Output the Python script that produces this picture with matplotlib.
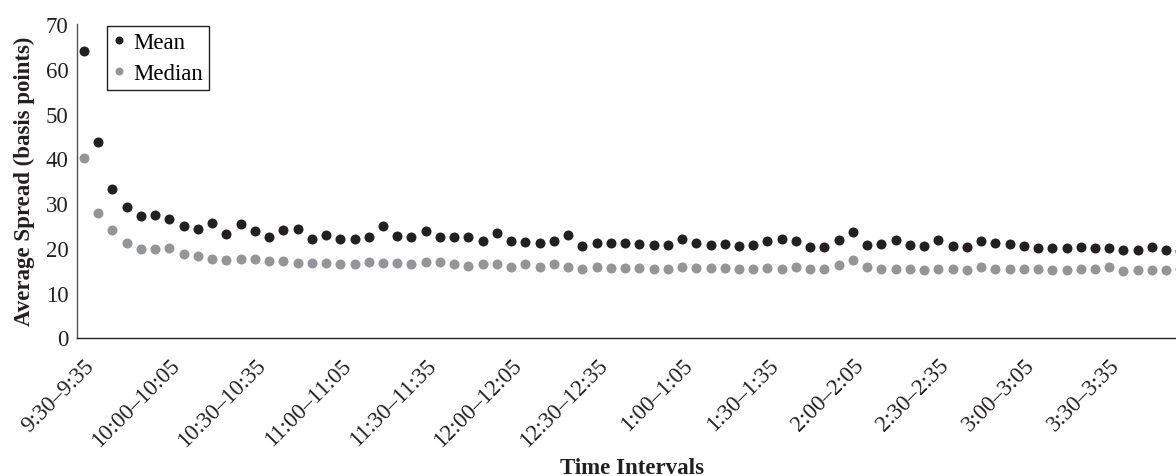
import matplotlib.pyplot as plt
import matplotlib.transforms as mtransforms
import numpy as np

# average spread per 5-minute interval, 9:30 to 4:00 (basis points)
mean_spread = [
    63.9, 43.6, 33.1, 29.1, 27.1, 27.3, 26.4, 24.9, 24.2, 25.6,
    23.1, 25.3, 23.7, 22.5, 24.0, 24.2, 22.0, 22.9, 22.0, 21.9,
    22.4, 24.9, 22.6, 22.5, 23.8, 22.5, 22.4, 22.4, 21.5, 23.3,
    21.5, 21.4, 21.0, 21.5, 22.9, 20.5, 21.2, 21.1, 21.2, 20.8,
    20.7, 20.7, 22.1, 21.0, 20.7, 20.9, 20.4, 20.7, 21.6, 22.0,
    21.5, 20.3, 20.3, 21.8, 23.5, 20.7, 20.9, 21.8, 20.7, 20.5,
    21.8, 20.4, 20.3, 21.5, 21.0, 20.9, 20.4, 19.9, 20.0, 20.0,
    20.1, 20.0, 20.0, 19.6, 19.6, 20.1, 19.6, 19.4,
]
median_spread = [
    40.1, 27.9, 23.9, 21.2, 19.8, 19.8, 20.0, 18.6, 18.2, 17.5,
    17.4, 17.5, 17.6, 17.0, 17.1, 16.6, 16.7, 16.6, 16.5, 16.5,
    16.9, 16.7, 16.6, 16.4, 16.8, 16.8, 16.4, 16.0, 16.3, 16.3,
    15.8, 16.4, 15.8, 16.3, 15.8, 15.4, 15.7, 15.5, 15.5, 15.5,
    15.3, 15.3, 15.7, 15.5, 15.5, 15.5, 15.3, 15.4, 15.5, 15.4,
    15.7, 15.4, 15.3, 16.2, 17.4, 15.8, 15.4, 15.4, 15.3, 15.1,
    15.3, 15.3, 15.1, 15.7, 15.4, 15.3, 15.3, 15.4, 15.1, 15.1,
    15.3, 15.4, 15.7, 14.8, 15.1, 15.1, 15.1, 15.3,
]
tick_labels = [
    '9:30–9:35', '10:00–10:05', '10:30–10:35', '11:00–11:05',
    '11:30–11:35', '12:00–12:05', '12:30–12:35', '1:00–1:05',
    '1:30–1:35', '2:00–2:05', '2:30–2:35', '3:00–3:05', '3:30–3:35',
]
label_every = 6

plt.rcParams['font.family'] = ['Liberation Serif', 'DejaVu Serif']
plt.rcParams['font.size'] = 16.5

W, H = 1176, 477
fig = plt.figure(figsize=(W / 100, H / 100), dpi=100)
ax = fig.add_axes([77.3 / W, 1 - 338.5 / H, 1 - 77.3 / W, (338.5 - 25) / H])

x = np.arange(len(mean_spread))
ax.plot(x, mean_spread, 'o', ls='none', color='#231f20', ms=7.2, mew=0, label='Mean')
ax.plot(x, median_spread, 'o', ls='none', color='#939598', ms=7.2, mew=0, label='Median')

ax.set_xlim(-0.47, 76.69)
ax.set_ylim(0, 70)
ax.set_yticks(range(0, 71, 10))
ax.set_xticks(x[::label_every])
ax.set_xticklabels(tick_labels, rotation=45, ha='right', rotation_mode='anchor')

# nudge rotated labels to the right like the original
shift = mtransforms.ScaledTranslation(13 / 100, 0, fig.dpi_scale_trans)
for lbl in ax.get_xticklabels():
    lbl.set_transform(lbl.get_transform() + shift)

ax.tick_params(axis='x', length=0, pad=12.4, colors='#231f20')
ax.tick_params(axis='y', length=0, pad=6.5, colors='#231f20')

for side in ['top', 'right']:
    ax.spines[side].set_visible(False)
ax.spines['left'].set_color('#555555')
ax.spines['bottom'].set_color('#231f20')
ax.spines['left'].set_linewidth(1.0)
ax.spines['bottom'].set_linewidth(1.0)

ax.set_xlabel('Time Intervals', fontweight='bold', color='#231f20')
ax.set_ylabel('Average Spread (basis points)', fontweight='bold', color='#231f20')
ax.xaxis.set_label_coords((632.5 - 77.3) / (W - 77.3), (338.5 - 458) / (338.5 - 25))
ax.yaxis.set_label_coords((35 - 77.3) / (W - 77.3), 0.5)

leg = ax.legend(loc='upper left', bbox_to_anchor=(106.7 / W, 1 - 26.7 / H),
                bbox_transform=fig.transFigure, borderaxespad=0, fancybox=False,
                framealpha=1, edgecolor='#231f20', borderpad=0.27, handlelength=0.5,
                handletextpad=0.4, labelspacing=0.42, markerscale=0.8)
leg.get_frame().set_linewidth(1.0)

fig.savefig('out.png', dpi=100)
